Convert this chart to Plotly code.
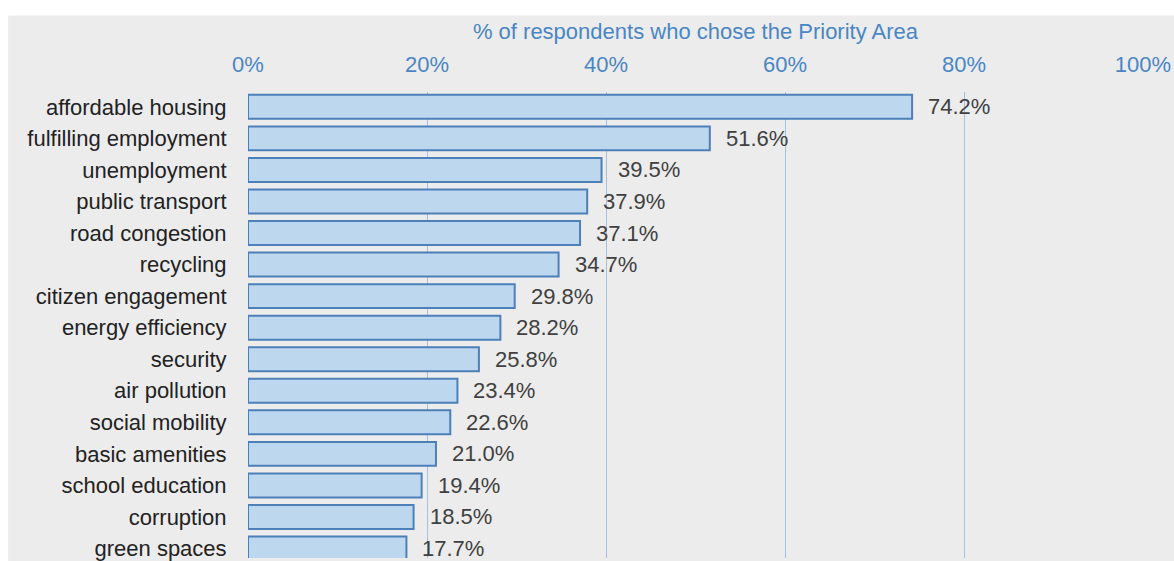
import plotly.graph_objects as go

categories = ["affordable housing", "fulfilling employment", "unemployment", "public transport",
              "road congestion", "recycling", "citizen engagement", "energy efficiency",
              "security", "air pollution", "social mobility", "basic amenities",
              "school education", "corruption", "green spaces"]
values = [74.2, 51.6, 39.5, 37.9, 37.1, 34.7, 29.8, 28.2, 25.8, 23.4, 22.6, 21.0, 19.4, 18.5, 17.7]
tick_vals = [0, 20, 40, 60, 80, 100]
tick_text = ["0%", "20%", "40%", "60%", "80%", "100%"]
axis_title = "% of respondents who chose the Priority Area"

FONT = "Liberation Sans, Arial, sans-serif"
BG = "#ececec"
BLUE_TXT = "#4a86c4"
FS = 22

fig = go.Figure()
fig.add_trace(go.Bar(
    x=values, y=categories, orientation="h",
    marker=dict(color="#bdd7ee", line=dict(color="#4d7fb9", width=2)),
    width=0.76, hoverinfo="skip",
))

for c, v in zip(categories, values):
    fig.add_annotation(x=v, y=c, text=f"{v:.1f}%", showarrow=False,
                       xanchor="left", xshift=14,
                       font=dict(family=FONT, size=FS, color="#404040"))

# white strips at top and left, gray panel elsewhere
fig.add_shape(type="rect", xref="paper", yref="paper",
              x0=-0.3, x1=-0.268, y0=-0.2, y1=1.3, fillcolor="white",
              line=dict(width=0), layer="below")
fig.add_shape(type="rect", xref="paper", yref="paper",
              x0=-0.3, x1=1.1, y0=1.164, y1=1.3, fillcolor="white",
              line=dict(width=0), layer="below")

fig.update_layout(
    width=1174, height=561,
    margin=dict(l=248, r=31, t=92, b=0),
    paper_bgcolor=BG, plot_bgcolor=BG,
    showlegend=False,
    font=dict(family=FONT),
    xaxis=dict(
        side="top", range=[0, 100], tickvals=tick_vals, ticktext=tick_text,
        showgrid=True, gridcolor="#a3c0e0", gridwidth=1, zeroline=False,
        ticks="outside", ticklen=10, tickcolor="rgba(0,0,0,0)",
        tickfont=dict(family=FONT, size=FS, color=BLUE_TXT),
        title=dict(text=axis_title, font=dict(family=FONT, size=FS, color=BLUE_TXT), standoff=6),
        showline=False, fixedrange=True,
    ),
    yaxis=dict(
        categoryorder="array", categoryarray=categories,
        range=[14.3, -0.47], showgrid=False, zeroline=False,
        ticks="outside", ticklen=16, tickcolor="rgba(0,0,0,0)",
        tickfont=dict(family=FONT, size=FS, color="#222222"),
        showline=False, fixedrange=True,
    ),
)

fig.write_html("out.html")
